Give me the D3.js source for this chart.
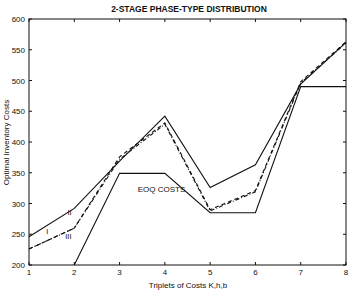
<!DOCTYPE html>
<html>
<head>
<meta charset="utf-8">
<script src="https://cdn.jsdelivr.net/npm/d3@7"></script>
<style>
  body { margin: 0; background: #fff; }
  text { font-family: "Liberation Sans", Arial, sans-serif; fill: #111; }
</style>
</head>
<body>
<svg width="353" height="291"></svg>
<script>
const svg = d3.select('svg');

// triplets of costs K,h,b
const triplets = [1, 2, 3, 4, 5, 6, 7, 8];
// series
const seriesI = [246, 292, 369, 442, 326, 363, 494, 562];
const seriesII = [226, 260, 376, 431, 290, 321, 498, 563];
const seriesIII = [226, 260, 372, 429, 288, 319, 496, 561];
const eoqCosts = [null, 200, 349, 349, 285, 285, 490, 490];
const yTicks = [200, 250, 300, 350, 400, 450, 500, 550, 600];

const margin = { top: 19, right: 6, bottom: 25, left: 29 };
const width = 353, height = 291;
const innerWidth = width - margin.left - margin.right;
const innerHeight = height - margin.top - margin.bottom;

const x = d3.scaleLinear().domain([1, 8]).range([0, innerWidth - 1]);
const y = d3.scaleLinear().domain([200, 600]).range([innerHeight - 1, 0]);

const g = svg.append('g')
  .attr('transform', `translate(${margin.left},${margin.top})`);

// frame
g.append('rect')
  .attr('width', innerWidth - 1).attr('height', innerHeight - 1)
  .attr('fill', 'none').attr('stroke', '#111').attr('stroke-width', 1);

// ticks (inward, all four sides)
const tickLen = 3;
triplets.forEach(t => {
  g.append('line').attr('x1', x(t)).attr('x2', x(t))
    .attr('y1', y(200)).attr('y2', y(200) - tickLen).attr('stroke', '#111');
  g.append('line').attr('x1', x(t)).attr('x2', x(t))
    .attr('y1', y(600)).attr('y2', y(600) + tickLen).attr('stroke', '#111');
  g.append('text').attr('x', x(t)).attr('y', y(200) + 10)
    .attr('text-anchor', 'middle').attr('font-size', 8).text(t);
});
yTicks.forEach(v => {
  g.append('line').attr('x1', 0).attr('x2', tickLen)
    .attr('y1', y(v)).attr('y2', y(v)).attr('stroke', '#111');
  g.append('line').attr('x1', x(8)).attr('x2', x(8) - tickLen)
    .attr('y1', y(v)).attr('y2', y(v)).attr('stroke', '#111');
  g.append('text').attr('x', -4).attr('y', y(v) + 3)
    .attr('text-anchor', 'end').attr('font-size', 8).text(v);
});

const line = d3.line()
  .defined(d => d[1] != null)
  .x(d => x(d[0])).y(d => y(d[1]));

const series = [
  { values: seriesIII, dash: '4,2,1,2' },
  { values: seriesII, dash: '4,3' },
  { values: seriesI, dash: null },
  { values: eoqCosts, dash: null }
];

series.forEach(s => {
  g.append('path')
    .datum(triplets.map((t, i) => [t, s.values[i]]))
    .attr('d', line)
    .attr('fill', 'none')
    .attr('stroke', '#111')
    .attr('stroke-width', 1.1)
    .attr('stroke-dasharray', s.dash);
});

// labels
g.append('text').attr('x', x(3.4)).attr('y', y(318)).attr('font-size', 8).text('EOQ COSTS');
g.append('text').attr('x', x(1.38)).attr('y', y(250)).attr('font-size', 7.5).text('I');
g.append('text').attr('x', x(1.85)).attr('y', y(281)).attr('font-size', 7.5).text('II');
g.append('text').attr('x', x(1.8)).attr('y', y(243)).attr('font-size', 7.5).text('III');

// title and axis labels
svg.append('text').attr('x', 189).attr('y', 12)
  .attr('text-anchor', 'middle').attr('font-size', 8.5).attr('font-weight', 'bold')
  .text('2-STAGE PHASE-TYPE DISTRIBUTION');
svg.append('text').attr('x', margin.left + innerWidth / 2).attr('y', 288)
  .attr('text-anchor', 'middle').attr('font-size', 8)
  .text('Triplets of Costs K,h,b');
svg.append('text')
  .attr('transform', `translate(9,${margin.top + innerHeight / 2}) rotate(-90)`)
  .attr('text-anchor', 'middle').attr('font-size', 8)
  .text('Optimal Inventory Costs');
</script>
</body>
</html>
